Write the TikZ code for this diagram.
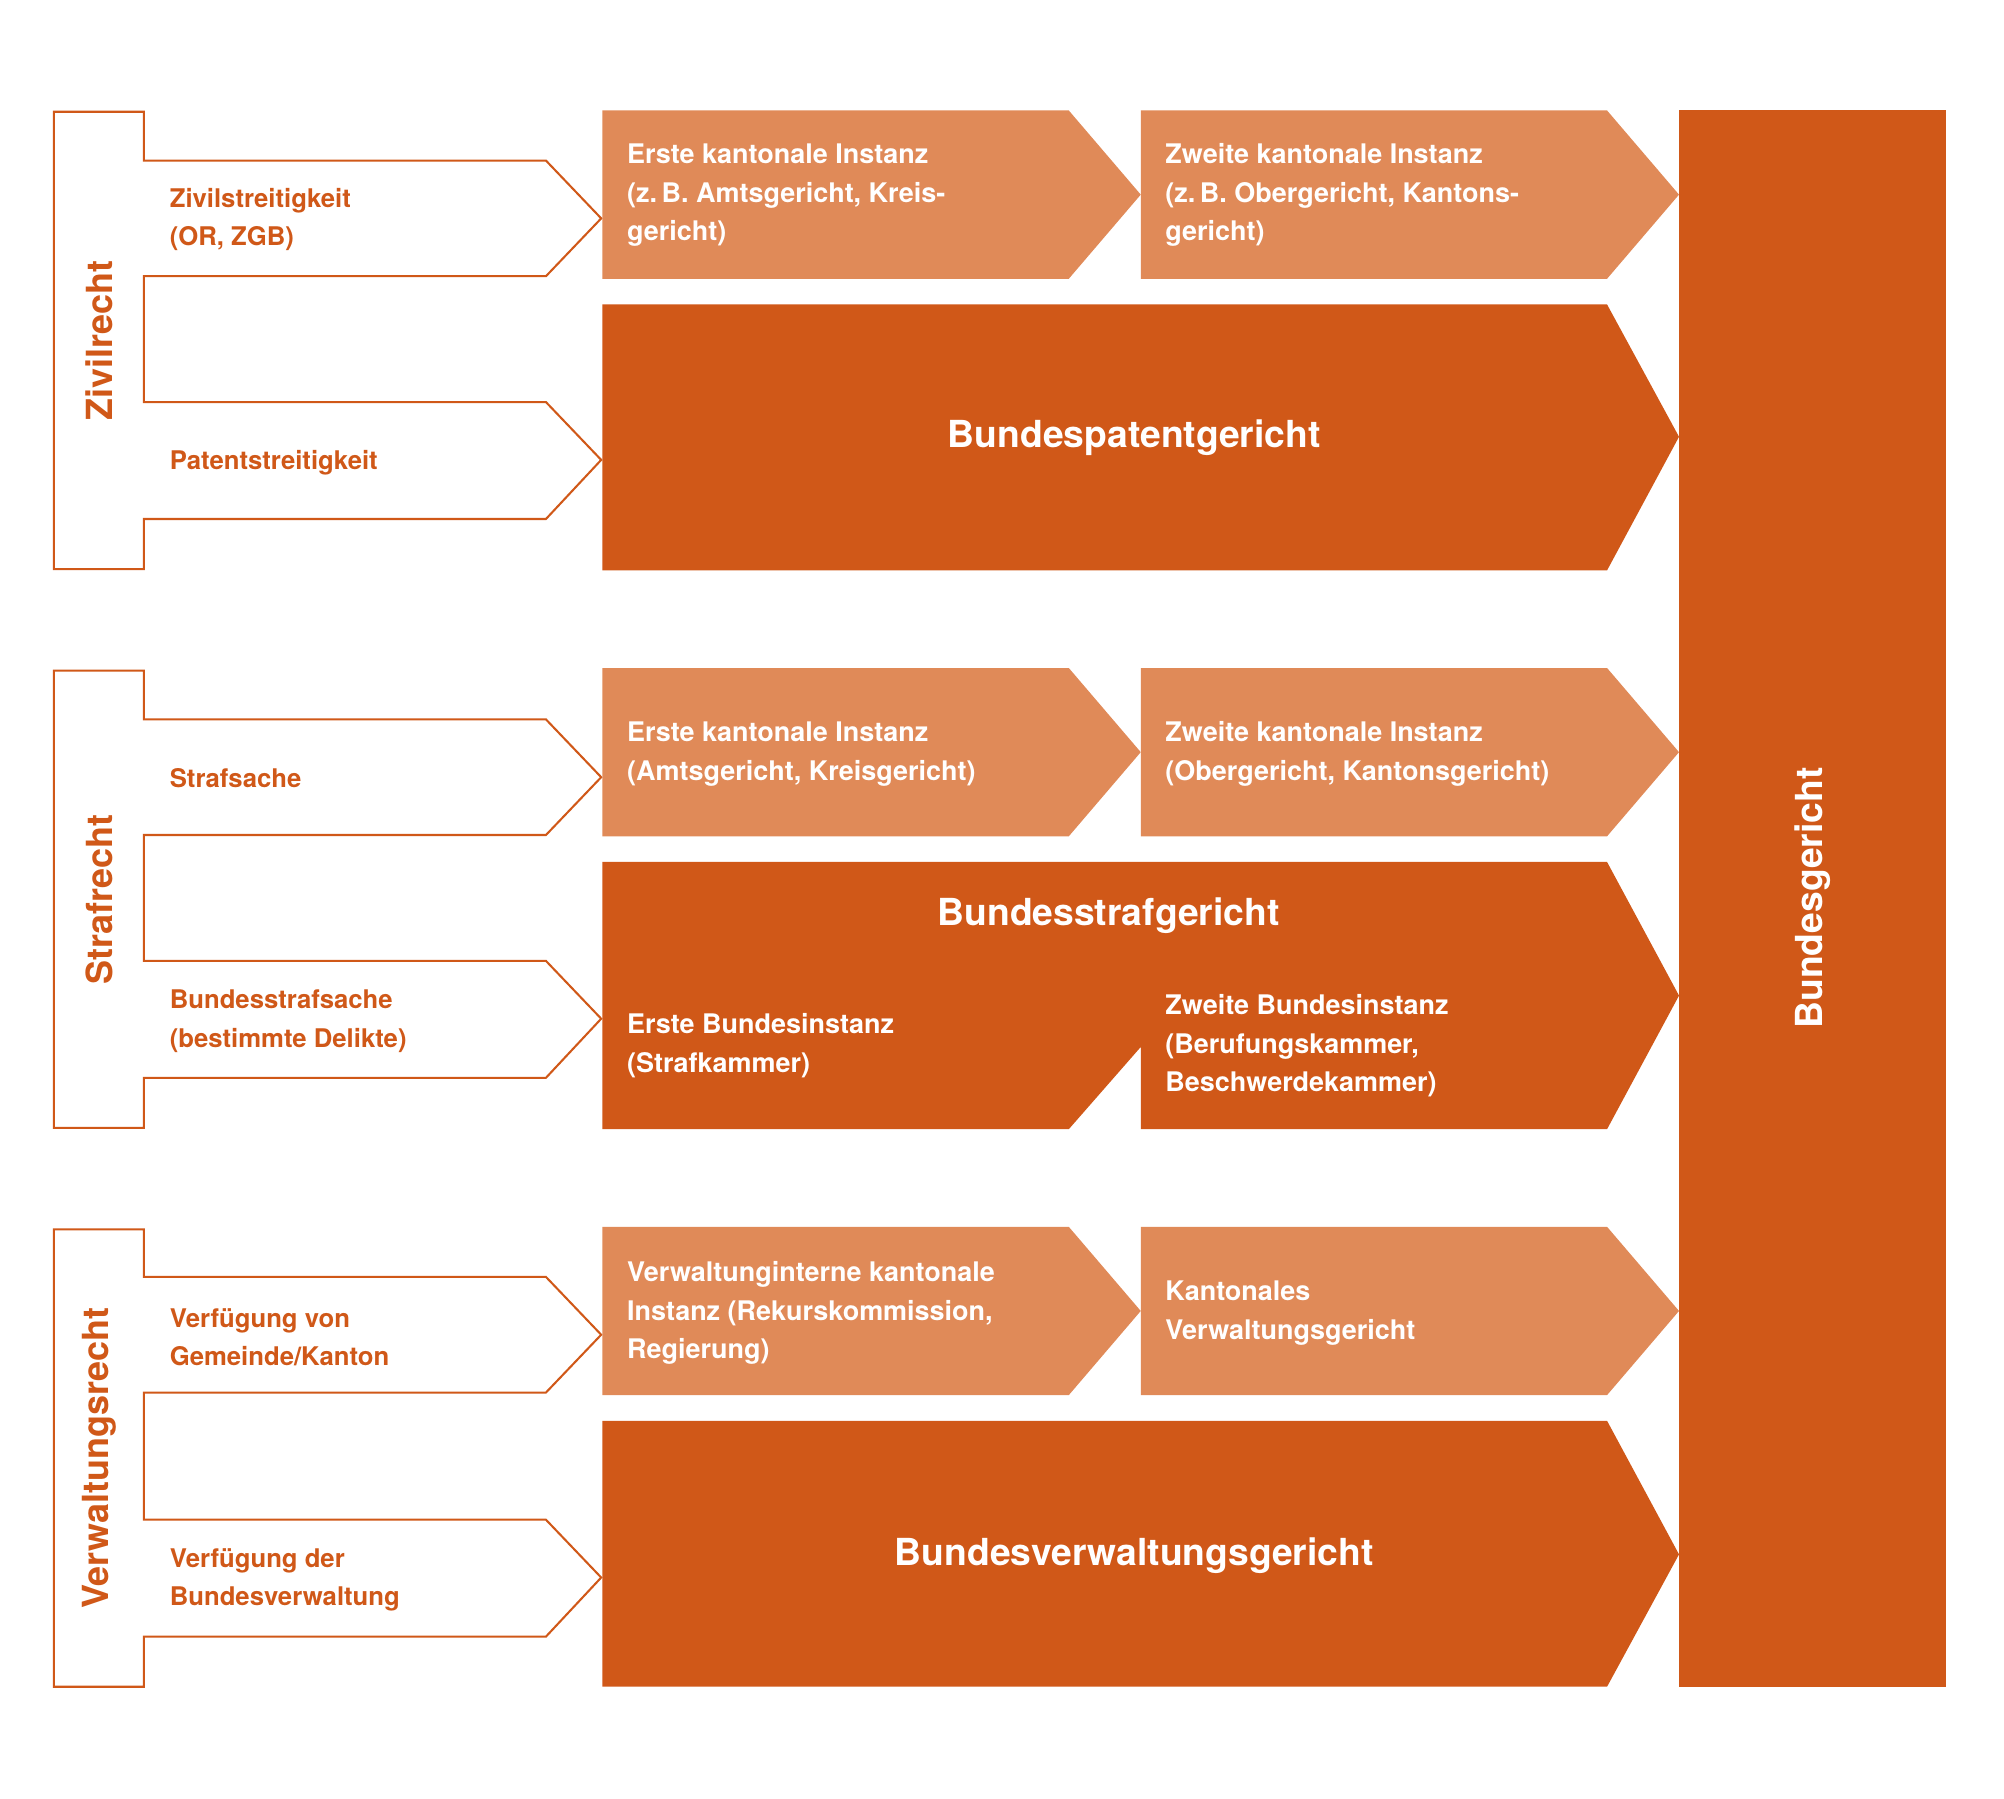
\documentclass[tikz,border=0pt]{standalone}
\usepackage{fontspec}
\setmainfont{TeX Gyre Heros}
\definecolor{lightor}{HTML}{E08A58}
\definecolor{darkor}{HTML}{D05818}
\begin{document}
\begin{tikzpicture}[x=1pt,y=-1pt,
  lt/.style={fill=lightor},
  dk/.style={fill=darkor},
  br/.style={draw=darkor,line width=1.6pt,fill=white},
  wt/.style={text=white,font=\bfseries\fontsize{21}{30}\selectfont,anchor=west,align=left,inner sep=0},
  big/.style={text=white,font=\bfseries\fontsize{29}{34}\selectfont,inner sep=0},
  lab/.style={text=darkor,font=\bfseries\fontsize{20}{30}\selectfont,anchor=west,align=left,inner sep=0},
  vl/.style={text=darkor,font=\bfseries\fontsize{28}{32}\selectfont,rotate=90,inner sep=0}]
\useasboundingbox (0,0) rectangle (1560,1400);
% brackets
\foreach \t/\a/\b in {87/125/313, 522/560/748, 957/994/1183}{
  \draw[br] (42,\t) -- (112,\t) -- (112,\a) -- (425,\a) -- (468,\a+45) -- (425,\a+90) -- (112,\a+90)
   -- (112,\b) -- (425,\b) -- (468,\b+45) -- (425,\b+91) -- (112,\b+91) -- (112,\t+356) -- (42,\t+356) -- cycle;
}
% light rows
\foreach \t in {86,520,955}{
  \fill[lt] (469,\t) -- (832,\t) -- (888,\t+65.5) -- (832,\t+131) -- (469,\t+131) -- cycle;
  \fill[lt] (888,\t) -- (1251,\t) -- (1307,\t+65.5) -- (1251,\t+131) -- (888,\t+131) -- cycle;
}
% dark
\fill[dk] (469,237) -- (1251,237) -- (1307,340) -- (1251,444) -- (469,444) -- cycle;
\fill[dk] (469,671) -- (1251,671) -- (1307,775) -- (1251,879) -- (888,879) -- (888,815) -- (832,879) -- (469,879) -- cycle;
\fill[dk] (469,1106) -- (1251,1106) -- (1307,1210) -- (1251,1313) -- (469,1313) -- cycle;
\fill[dk] (1307,86) rectangle (1515,1313);
% texts
\node[vl] (z) at (77,265) {Zivilrecht};
\node[vl] (s) at (77,700) {Strafrecht};
\node[vl] (v) at (77,1135) {Verwaltungsrecht};
\node[lab] (l1) at (132,171) {Zivilstreitigkeit\\(OR, ZGB)};
\node[lab] (l2) at (132,360) {Patentstreitigkeit};
\node[lab] (l3) at (132,606) {Strafsache};
\node[lab] (l4) at (132,795) {Bundesstrafsache\\(bestimmte Delikte)};
\node[lab] (l5) at (132,1041) {Verfügung von\\Gemeinde/Kanton};
\node[lab] (l6) at (132,1230) {Verfügung der\\Bundesverwaltung};
\node[wt] (a1) at (488,152) {Erste kantonale Instanz\\(z.\,B. Amtsgericht, Kreis-\\gericht)};
\node[wt] (a2) at (907,152) {Zweite kantonale Instanz\\(z.\,B. Obergericht, Kantons-\\gericht)};
\node[big] (b1) at (883,341) {Bundespatentgericht};
\node[wt] (a3) at (488,587) {Erste kantonale Instanz\\(Amtsgericht, Kreisgericht)};
\node[wt] (a4) at (907,587) {Zweite kantonale Instanz\\(Obergericht, Kantonsgericht)};
\node[big] (b2) at (863,713) {Bundesstrafgericht};
\node[wt] (a5) at (488,814) {Erste Bundesinstanz\\(Strafkammer)};
\node[wt] (a6) at (907,814) {Zweite Bundesinstanz\\(Berufungskammer,\\Beschwerdekammer)};
\node[wt] (a7) at (488,1022) {Verwaltunginterne kantonale\\Instanz (Rekurskommission,\\Regierung)};
\node[wt] (a8) at (907,1022) {Kantonales\\Verwaltungsgericht};
\node[big] (b3) at (883,1211) {Bundesverwaltungsgericht};
\node[big,rotate=90] (bg) at (1411,699) {Bundesgericht};
\end{tikzpicture}
\end{document}
